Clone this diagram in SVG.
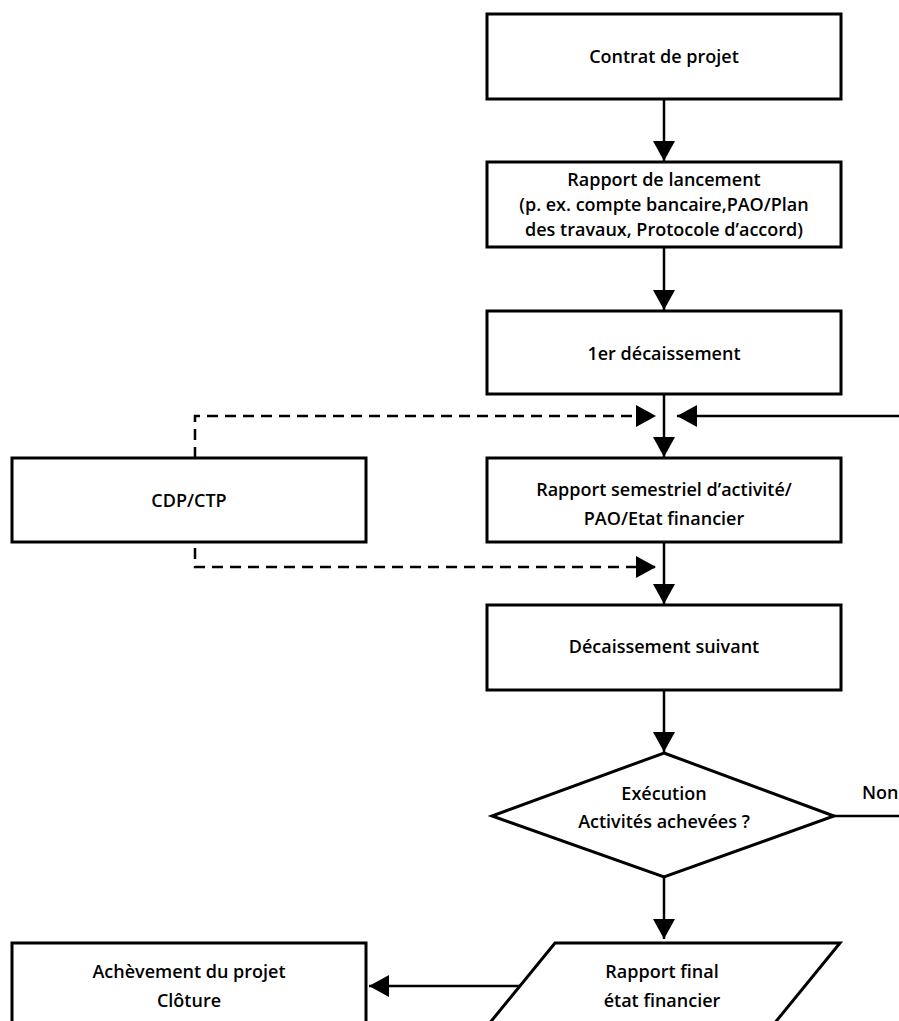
<svg xmlns="http://www.w3.org/2000/svg" width="899" height="1021" viewBox="0 0 899 1021">
<style>
.box{fill:#fff;stroke:#000;stroke-width:3}
.t{font-family:"Open Sans","Liberation Sans",sans-serif;font-weight:600;font-size:18px;text-anchor:middle;fill:#000}
.ln{fill:none;stroke:#000;stroke-width:2.5}
.ds{fill:none;stroke:#000;stroke-width:2.5;stroke-dasharray:11 7}
</style>
<defs>
<marker id="ah" viewBox="0 0 20 22" refX="20" refY="11" markerWidth="20" markerHeight="22" markerUnits="userSpaceOnUse" orient="auto">
<path d="M0,0 L20,11 L0,22 Z" fill="#000"/>
</marker>
</defs>
<rect width="899" height="1021" fill="#fff"/>
<g id="connectors">
<line class="ln" x1="664" y1="99" x2="664" y2="161" marker-end="url(#ah)"/>
<line class="ln" x1="664" y1="247" x2="664" y2="310" marker-end="url(#ah)"/>
<line class="ln" x1="664" y1="394" x2="664" y2="457" marker-end="url(#ah)"/>
<line class="ln" x1="899" y1="416" x2="677" y2="416" marker-end="url(#ah)"/>
<path class="ds" d="M195,458 L195,416 L656,416" marker-end="url(#ah)"/>
<path class="ds" d="M195,548 L195,567 L656,567" marker-end="url(#ah)"/>
<line class="ln" x1="664" y1="542" x2="664" y2="604" marker-end="url(#ah)"/>
<line class="ln" x1="664" y1="690" x2="664" y2="752" marker-end="url(#ah)"/>
<line class="ln" x1="834" y1="816" x2="899" y2="816"/>
<line class="ln" x1="664" y1="877" x2="664" y2="939" marker-end="url(#ah)"/>
<line class="ln" x1="520" y1="986" x2="369" y2="986" marker-end="url(#ah)"/>
</g>
<g id="contrat">
<rect class="box" x="487" y="14" width="354" height="85"/>
<text class="t" x="664" y="63">Contrat de projet</text>
</g>
<g id="lancement">
<rect class="box" x="487" y="162" width="354" height="85"/>
<text class="t" x="664" y="186">Rapport de lancement</text>
<text class="t" x="664" y="211">(p. ex. compte bancaire,PAO/Plan</text>
<text class="t" x="664" y="236">des travaux, Protocole d’accord)</text>
</g>
<g id="decaissement1">
<rect class="box" x="487" y="311" width="354" height="83"/>
<text class="t" x="664" y="360">1er décaissement</text>
</g>
<g id="cdp">
<rect class="box" x="12" y="458" width="354" height="84"/>
<text class="t" x="189" y="507">CDP/CTP</text>
</g>
<g id="semestriel">
<rect class="box" x="487" y="458" width="354" height="84"/>
<text class="t" x="664" y="496">Rapport semestriel d’activité/</text>
<text class="t" x="664" y="525">PAO/Etat financier</text>
</g>
<g id="suivant">
<rect class="box" x="487" y="605" width="354" height="85"/>
<text class="t" x="664" y="653">Décaissement suivant</text>
</g>
<g id="decision">
<polygon class="box" points="664,753 834,816 664,877 492,816"/>
<text class="t" x="664" y="800">Exécution</text>
<text class="t" x="664" y="828">Activités achevées ?</text>
<text class="t" x="862" y="799" style="text-anchor:start">Non</text>
</g>
<g id="final">
<polygon class="box" points="555,943 840,943 769,1030 484,1030"/>
<text class="t" x="662" y="978">Rapport final</text>
<text class="t" x="662" y="1007">état financier</text>
</g>
<g id="cloture">
<rect class="box" x="12" y="943" width="354" height="90"/>
<text class="t" x="189" y="978">Achèvement du projet</text>
<text class="t" x="189" y="1007">Clôture</text>
</g>
</svg>
